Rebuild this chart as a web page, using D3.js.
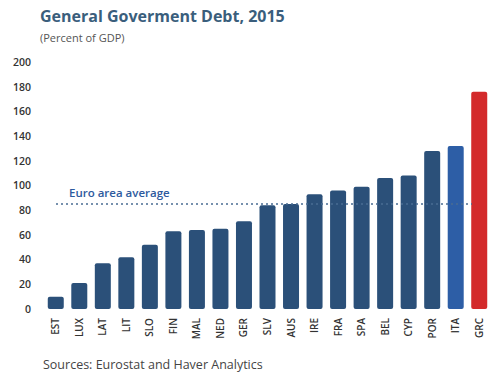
<!DOCTYPE html>
<html>
<head>
<meta charset="utf-8">
<script src="https://cdn.jsdelivr.net/npm/d3@7"></script>
<style>
  html, body { margin: 0; padding: 0; background: #fff; }
  svg { display: block; font-family: "Open Sans", "DejaVu Sans", sans-serif; }
</style>
</head>
<body>
<svg id="chart" width="490" height="373"></svg>
<script>
// Euro area member general government debt, 2015 (percent of GDP)
const countries = ["EST","LUX","LAT","LIT","SLO","FIN","MAL","NED","GER","SLV",
                   "AUS","IRE","FRA","SPA","BEL","CYP","POR","ITA","GRC"];
const debt = [10, 21, 37, 42, 52, 63, 64, 65, 71, 84,
              85, 93, 96, 99, 106, 108, 128, 132, 176];
const euroAreaAverage = 85;
const yTicks = [0, 20, 40, 60, 80, 100, 120, 140, 160, 180, 200];

const svg = d3.select("#chart");

const x = d3.scaleBand()
  .domain(countries)
  .range([44, 491])
  .paddingInner(0.32)
  .paddingOuter(0.16);

const y = d3.scaleLinear()
  .domain([0, 200])
  .range([309, 62]);

function barColor(c) {
  if (c === "GRC") return "#d32a2b";
  if (c === "ITA") return "#2d5ea6";
  return "#2b5079";
}

// Title block
svg.append("text")
  .attr("x", 40).attr("y", 22)
  .attr("font-size", 16).attr("font-weight", "bold")
  .attr("fill", "#3a5e7c")
  .text("General Goverment Debt, 2015");

svg.append("text")
  .attr("x", 40).attr("y", 42)
  .attr("font-size", 11).attr("fill", "#555")
  .text("(Percent of GDP)");

// Y axis (labels only)
const yAxis = svg.append("g")
  .attr("transform", "translate(31,0)")
  .call(d3.axisLeft(y).tickValues(yTicks).tickSize(0).tickPadding(0));
yAxis.select(".domain").remove();
yAxis.selectAll("text")
  .attr("font-size", 10.5)
  .attr("font-weight", 600)
  .attr("font-family", "'Open Sans', 'DejaVu Sans', sans-serif")
  .attr("fill", "#333");

// Bars
svg.append("g")
  .selectAll("rect")
  .data(countries)
  .join("rect")
  .attr("x", d => x(d))
  .attr("width", x.bandwidth())
  .attr("y", (d, i) => y(debt[i]))
  .attr("height", (d, i) => y(0) - y(debt[i]))
  .attr("rx", 2)
  .attr("fill", barColor);

// Euro area average line
svg.append("line")
  .attr("x1", 56).attr("x2", 472)
  .attr("y1", y(euroAreaAverage)).attr("y2", y(euroAreaAverage))
  .attr("stroke", "#4a6c93")
  .attr("stroke-width", 1.6)
  .attr("stroke-dasharray", "2,3");

svg.append("text")
  .attr("x", 69).attr("y", y(euroAreaAverage) - 7)
  .attr("font-size", 11.5).attr("font-weight", 600).attr("fill", "#2d5a9e")
  .text("Euro area average");

// X axis (rotated country codes)
const xAxis = svg.append("g")
  .attr("transform", "translate(0,316)")
  .call(d3.axisBottom(x).tickSize(0).tickPadding(0));
xAxis.select(".domain").remove();
xAxis.selectAll("text")
  .attr("font-size", 10)
  .attr("font-weight", 600)
  .attr("font-family", "'Open Sans', 'DejaVu Sans', sans-serif")
  .attr("fill", "#333")
  .attr("transform", "rotate(-90)")
  .attr("text-anchor", "end")
  .attr("dy", "0.35em")
  .attr("x", -2)
  .attr("y", 0);

// Source note
svg.append("text")
  .attr("x", 43).attr("y", 369)
  .attr("font-size", 12.5).attr("fill", "#444")
  .text("Sources: Eurostat and Haver Analytics");
</script>
</body>
</html>
